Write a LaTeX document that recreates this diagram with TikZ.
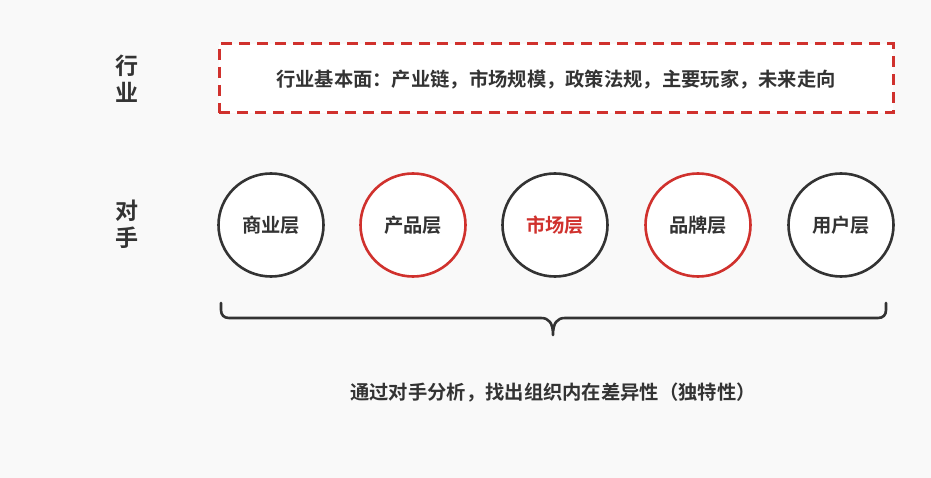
\documentclass[tikz,border=0pt]{standalone}
\usepackage{fontspec}
\newfontfamily\cjk{Noto Sans CJK SC Bold}
\definecolor{bg}{HTML}{F9F9F9}
\definecolor{ink}{HTML}{333333}
\definecolor{accent}{HTML}{D0312D}
\tikzset{
  layer/.style={ellipse, draw=ink, line width=2.6pt, fill=white, minimum width=105pt, minimum height=103pt, inner sep=0pt, font=\cjk\fontsize{19.3}{22}\selectfont, text=ink},
  redlayer/.style={layer, draw=accent},
  sidelabel/.style={font=\cjk\fontsize{23}{27}\selectfont, text=ink, align=center},
  bodytext/.style={font=\cjk\fontsize{19.3}{22}\selectfont, text=ink}
}
\usetikzlibrary{shapes.geometric}
\begin{document}
\begin{tikzpicture}[x=1pt,y=-1pt]
\fill[bg] (0,0) rectangle (931,478);
\useasboundingbox (0,0) rectangle (931,478);
\node[sidelabel] (hy) at (127,79) {行\\业};
\node[sidelabel] (ds) at (127,224) {对\\手};
\node[draw=accent, dash pattern=on 11pt off 7pt, line width=3pt, fill=white, minimum width=674pt, minimum height=69pt, inner sep=0pt] (box) at (556,78.5) {};
\node[bodytext] (boxtext) at (556,80) {行业基本面：产业链，市场规模，政策法规，主要玩家，未来走向};
\node[layer] (c1) at (271,225) {商业层};
\node[redlayer] (c2) at (413,225) {产品层};
\node[layer, text=accent] (c3) at (555,225) {市场层};
\node[redlayer] (c4) at (698,225) {品牌层};
\node[layer] (c5) at (841,225) {用户层};
\coordinate (bl) at (221,303);
\coordinate (br) at (886,303);
\coordinate (bt) at (553,335);
\draw[ink, line width=2.6pt, line cap=round, line join=round]
  (bl) -- (221,310) .. controls (221,315) and (224,318) .. (229,318) -- (541,318)
  .. controls (549,318) and (553,323) .. (bt)
  .. controls (553,323) and (557,318) .. (565,318) -- (878,318)
  .. controls (883,318) and (886,315) .. (886,310) -- (br);
\node[bodytext] (summary) at (553,393) {通过对手分析，找出组织内在差异性（独特性）};
\end{tikzpicture}
\end{document}
